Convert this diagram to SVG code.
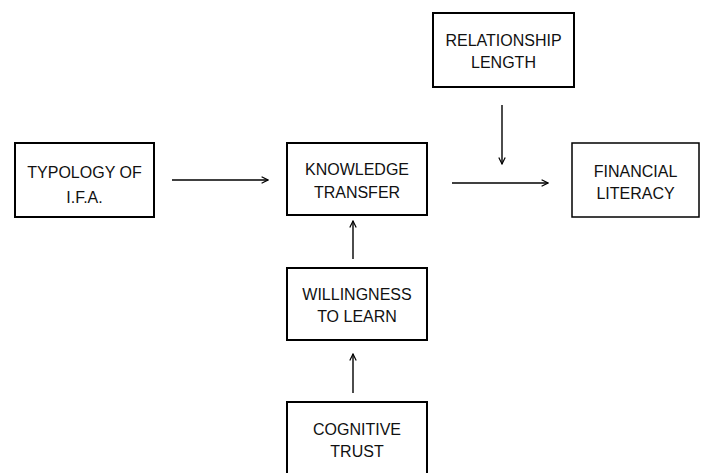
<svg xmlns="http://www.w3.org/2000/svg" width="701" height="473" viewBox="0 0 701 473">
<defs>
<marker id="arr" viewBox="0 0 10 10" refX="9" refY="5" markerWidth="8" markerHeight="8" markerUnits="userSpaceOnUse" orient="auto">
<path d="M1,1 L9,5 L1,9" fill="none" stroke="#000" stroke-width="1.5"/>
</marker>
<style>
.box{fill:#fff;stroke:#000;stroke-width:2}
.t{font-family:"Liberation Sans",Arial,sans-serif;font-size:16px;fill:#111;text-anchor:middle}
.c{stroke:#000;stroke-width:1.4;fill:none;marker-end:url(#arr)}
</style>
</defs>
<rect width="701" height="473" fill="#fff"/>
<g id="typology">
<rect class="box" x="15" y="143" width="139" height="74"/>
<text class="t" x="84.5" y="178">TYPOLOGY OF</text>
<text class="t" x="84.5" y="203">I.F.A.</text>
</g>
<g id="knowledge">
<rect class="box" x="287" y="143" width="140" height="72"/>
<text class="t" x="357" y="175">KNOWLEDGE</text>
<text class="t" x="357" y="198">TRANSFER</text>
</g>
<g id="relationship">
<rect class="box" x="433" y="13" width="141" height="74"/>
<text class="t" x="503.5" y="46">RELATIONSHIP</text>
<text class="t" x="503.5" y="68">LENGTH</text>
</g>
<g id="financial">
<rect class="box" x="572" y="143" width="127" height="74" style="stroke-width:1.5"/>
<text class="t" x="635.5" y="177">FINANCIAL</text>
<text class="t" x="635.5" y="199">LITERACY</text>
</g>
<g id="willingness">
<rect class="box" x="287" y="268" width="140" height="72"/>
<text class="t" x="357" y="300">WILLINGNESS</text>
<text class="t" x="357" y="322">TO LEARN</text>
</g>
<g id="cognitive">
<rect class="box" x="287" y="402" width="140" height="80"/>
<text class="t" x="357" y="435">COGNITIVE</text>
<text class="t" x="357" y="457">TRUST</text>
</g>
<g id="connectors">
<line class="c" x1="172" y1="180" x2="268" y2="180"/>
<line class="c" x1="452" y1="183" x2="548" y2="183"/>
<line class="c" x1="502" y1="105" x2="502" y2="164"/>
<line class="c" x1="353" y1="259" x2="353" y2="221"/>
<line class="c" x1="353" y1="393" x2="353" y2="354"/>
</g>
</svg>
